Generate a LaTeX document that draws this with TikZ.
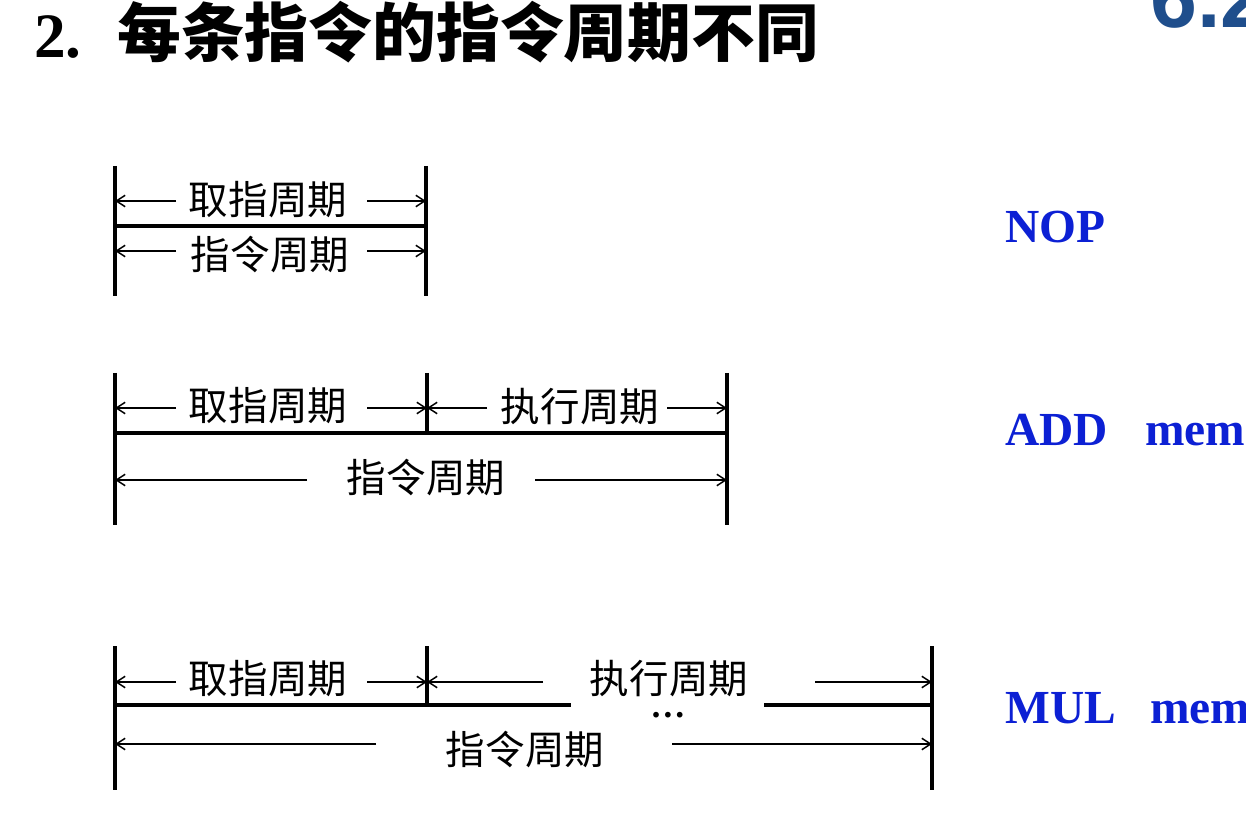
\documentclass[tikz,border=0pt]{standalone}
\usepackage{fontspec}
\setmainfont{Liberation Serif}
\newfontfamily\cjk{Noto Sans CJK SC}
\newfontfamily\lsans{Liberation Sans}
\usetikzlibrary{arrows.meta}
\definecolor{opblue}{RGB}{12,32,212}
\definecolor{secblue}{RGB}{31,78,140}
\tikzset{
  bar/.style={line width=2.3pt},
  dimarrow/.style={line width=0.85pt,-{Straight Barb[length=5pt,width=6.5pt]}},
  lbl/.style={font=\cjk\fontsize{22.5}{24}\selectfont, inner sep=0pt},
  opname/.style={font=\bfseries\fontsize{27}{30}\selectfont, text=opblue, anchor=base west, inner sep=0pt},
}
\begin{document}
\begin{tikzpicture}[x=0.02cm,y=-0.02cm]
\useasboundingbox (0,0) rectangle (1246,813);

% title and section number
\node[anchor=base west, inner sep=0pt, font=\bfseries\fontsize{36}{38}\selectfont] (num) at (34,58) {2.};
\node[anchor=base west, inner sep=0pt, font=\cjk\bfseries\fontsize{36.3}{38}\selectfont] (title) at (117,57) {每条指令的指令周期不同};
\node[anchor=base west, inner sep=0pt, text=secblue, font=\lsans\bfseries\fontsize{48}{50}\selectfont] (sec) at (1150,28) {6.2};

% ---------- NOP ----------
\coordinate (n1t) at (115,166); \coordinate (n1b) at (115,296);
\coordinate (n2t) at (426,166); \coordinate (n2b) at (426,296);
\coordinate (n1m) at (115,226); \coordinate (n2m) at (426,226);
\draw[bar] (n1t) -- (n1b);
\draw[bar] (n2t) -- (n2b);
\draw[bar] (n1m) -- (n2m);
\node[lbl] (nf) at (268,200) {取指周期};
\coordinate (nfl) at (176,201); \coordinate (nfL) at (115,201);
\coordinate (nfr) at (367,201); \coordinate (nfR) at (426,201);
\draw[dimarrow] (nfl) -- (nfL);
\draw[dimarrow] (nfr) -- (nfR);
\node[lbl] (ni) at (270,255) {指令周期};
\coordinate (nil) at (176,251); \coordinate (niL) at (115,251);
\coordinate (nir) at (367,251); \coordinate (niR) at (426,251);
\draw[dimarrow] (nil) -- (niL);
\draw[dimarrow] (nir) -- (niR);
\node[opname] (nop) at (1005,243) {NOP};

% ---------- ADD ----------
\coordinate (a1t) at (115,373); \coordinate (a1b) at (115,525);
\coordinate (a2t) at (427,373); \coordinate (a2b) at (427,433);
\coordinate (a3t) at (727,373); \coordinate (a3b) at (727,525);
\coordinate (a1m) at (115,433); \coordinate (a3m) at (727,433);
\draw[bar] (a1t) -- (a1b);
\draw[bar] (a2t) -- (a2b);
\draw[bar] (a3t) -- (a3b);
\draw[bar] (a1m) -- (a3m);
\node[lbl] (af) at (268,406) {取指周期};
\coordinate (afl) at (176,408); \coordinate (afL) at (115,408);
\coordinate (afr) at (367,408); \coordinate (afR) at (427,408);
\draw[dimarrow] (afl) -- (afL);
\draw[dimarrow] (afr) -- (afR);
\node[lbl] (ae) at (580,407) {执行周期};
\coordinate (ael) at (487,408); \coordinate (aeL) at (427,408);
\coordinate (aer) at (667,408); \coordinate (aeR) at (727,408);
\draw[dimarrow] (ael) -- (aeL);
\draw[dimarrow] (aer) -- (aeR);
\node[lbl] (ai) at (426,478) {指令周期};
\coordinate (ail) at (307,480); \coordinate (aiL) at (115,480);
\coordinate (air) at (535,480); \coordinate (aiR) at (727,480);
\draw[dimarrow] (ail) -- (aiL);
\draw[dimarrow] (air) -- (aiR);
\node[opname] (add) at (1005,446) {ADD};
\node[opname] (addm) at (1145,446) {mem};

% ---------- MUL ----------
\coordinate (m1t) at (115,646); \coordinate (m1b) at (115,790);
\coordinate (m2t) at (427,646); \coordinate (m2b) at (427,705);
\coordinate (m3t) at (932,646); \coordinate (m3b) at (932,790);
\coordinate (m1m) at (115,705); \coordinate (mgl) at (571,705);
\coordinate (mgr) at (764,705); \coordinate (m3m) at (932,705);
\draw[bar] (m1t) -- (m1b);
\draw[bar] (m2t) -- (m2b);
\draw[bar] (m3t) -- (m3b);
\draw[bar] (m1m) -- (mgl);
\draw[bar] (mgr) -- (m3m);
\node[lbl] (mf) at (268,679) {取指周期};
\coordinate (mfl) at (176,682); \coordinate (mfL) at (115,682);
\coordinate (mfr) at (367,682); \coordinate (mfR) at (427,682);
\draw[dimarrow] (mfl) -- (mfL);
\draw[dimarrow] (mfr) -- (mfR);
\node[lbl] (me) at (669,679) {执行周期};
\coordinate (mel) at (543,682); \coordinate (meL) at (427,682);
\coordinate (mer) at (815,682); \coordinate (meR) at (932,682);
\draw[dimarrow] (mel) -- (meL);
\draw[dimarrow] (mer) -- (meR);
\node[anchor=base, inner sep=0pt, font=\bfseries\fontsize{20}{22}\selectfont] (dots) at (668,717) {…};
\node[lbl] (mi) at (525,750) {指令周期};
\coordinate (mil) at (376,744); \coordinate (miL) at (115,744);
\coordinate (mir) at (672,744); \coordinate (miR) at (932,744);
\draw[dimarrow] (mil) -- (miL);
\draw[dimarrow] (mir) -- (miR);
\node[opname] (mul) at (1005,723) {MUL};
\node[opname] (mulm) at (1150,723) {mem};
\end{tikzpicture}
\end{document}
